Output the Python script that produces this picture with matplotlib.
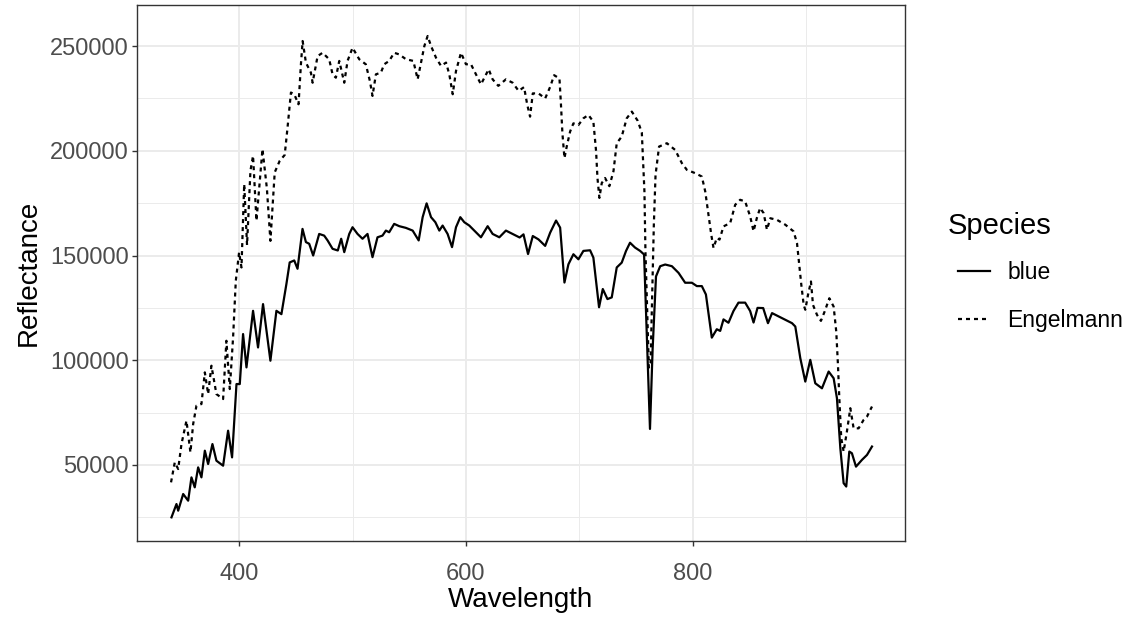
import matplotlib
matplotlib.use("Agg")
import matplotlib.pyplot as plt
from matplotlib.ticker import MultipleLocator

plt.rcParams['font.family'] = ['Liberation Sans', 'DejaVu Sans']

# ---- data ----
blue_wl = [340.4, 344.8, 346.3, 350.7, 355.1, 358.0, 360.9, 363.9, 366.8, 369.8,
           372.7, 376.5, 380.0, 385.9, 390.3, 393.8, 397.7, 400.6, 403.5, 406.5,
           412.3, 416.7, 421.1, 427.6, 432.9, 437.3, 441.7, 444.6, 448.6, 451.5,
           455.9, 458.9, 461.8, 465.3, 470.6, 475.0, 478.0, 482.4, 487.0, 490.0,
           492.7, 497.1, 500.0, 504.4, 508.8, 513.2, 517.6, 522.0, 526.4, 529.4,
           532.3, 536.7, 541.2, 547.0, 553.0, 558.3, 561.8, 565.3, 569.2, 573.0,
           576.5, 579.4, 583.8, 587.7, 591.2, 595.0, 598.5, 602.9, 607.3, 613.2,
           619.1, 623.5, 629.4, 635.2, 641.1, 647.3, 650.7, 654.7, 658.9, 663.9,
           669.8, 674.2, 679.4, 683.0, 686.8, 690.3, 694.7, 699.1, 703.5, 709.4,
           712.3, 717.3, 720.6, 724.7, 728.5, 732.9, 737.3, 741.1, 744.6, 749.0,
           753.5, 757.0, 759.5, 762.2, 764.5, 767.5, 771.2, 775.6, 781.5, 787.4,
           793.2, 799.1, 803.5, 807.9, 811.5, 816.7, 821.1, 824.1, 827.0, 831.4,
           835.8, 840.2, 846.1, 850.5, 853.5, 857.0, 862.0, 866.2, 869.8, 875.6,
           881.5, 887.4, 890.3, 894.7, 899.1, 903.5, 907.9, 913.8, 919.7, 924.1,
           927.0, 930.0, 932.9, 935.2, 937.9, 940.2, 943.8, 949.0, 953.5, 957.9]
blue_refl = [24990, 31350, 28170, 36130, 32950, 44080, 39310, 48860, 44080, 56810,
             50450, 59990, 52040, 49650, 66360, 53620, 88630, 88630, 112500, 96580,
             123600, 106100, 126800, 99770, 123600, 122000, 136400, 146700, 147640, 143670,
             162700, 156400, 155600, 150000, 160300, 159500, 157200, 153200, 152400, 158000,
             151600, 160300, 163500, 160300, 158000, 160300, 149200, 158700, 159500, 161900,
             161100, 165100, 164000, 163200, 161900, 157200, 168300, 174900, 168300, 165900,
             161900, 164300, 160300, 154000, 163500, 168300, 165900, 164300, 161900, 158700,
             164000, 160300, 158700, 161900, 160300, 158600, 160100, 150700, 159300, 157700,
             154600, 160900, 166700, 163300, 137100, 145800, 150600, 148200, 152200, 152500,
             149000, 125300, 134000, 129200, 130000, 144300, 146600, 152200, 156100, 153800,
             152200, 150500, 110000, 67200, 105000, 140000, 144900, 145700, 144900, 141700,
             137000, 137000, 135400, 135400, 131400, 110800, 114800, 114000, 119500, 117900,
             123500, 127500, 127500, 123500, 118000, 125000, 124900, 117700, 122500, 120900,
             119300, 117700, 116100, 101000, 89800, 100200, 89000, 86600, 94600, 91400,
             81900, 58000, 41300, 39700, 56400, 55600, 49200, 52400, 54800, 58800]

engel_wl = [340.0, 343.3, 346.3, 349.2, 353.6, 357.1, 359.5, 362.4, 366.8, 369.8,
            372.7, 375.6, 380.0, 385.9, 388.8, 391.8, 394.7, 397.1, 400.0, 402.1,
            404.5, 407.0, 410.0, 412.3, 415.3, 420.6, 424.5, 427.6, 431.4, 435.8,
            440.2, 442.7, 445.7, 448.6, 452.4, 454.5, 456.0, 458.9, 463.3, 464.8,
            469.2, 473.6, 479.4, 482.4, 485.3, 488.3, 492.7, 495.6, 500.0, 505.9,
            511.7, 515.3, 517.6, 520.6, 525.0, 527.9, 532.3, 536.7, 541.2, 547.1,
            553.6, 557.4, 561.2, 563.3, 566.2, 569.2, 573.6, 578.0, 582.4, 585.3,
            588.3, 591.2, 595.6, 600.0, 604.4, 608.8, 613.2, 617.0, 620.0, 623.5,
            628.5, 635.2, 641.1, 646.4, 651.2, 654.0, 656.5, 658.9, 663.9, 669.8,
            674.2, 677.7, 682.4, 683.6, 685.0, 686.8, 688.8, 691.8, 694.7, 699.1,
            703.5, 707.9, 712.3, 714.7, 715.9, 717.6, 719.7, 722.6, 726.4, 730.0,
            732.9, 737.3, 741.7, 746.2, 751.4, 755.0, 757.3, 758.2, 759.7, 761.2,
            762.7, 764.2, 765.6, 767.1, 770.2, 777.1, 784.4, 790.3, 794.7, 802.1,
            807.9, 810.9, 813.8, 816.2, 818.2, 821.1, 823.5, 827.0, 832.9, 837.3,
            841.7, 846.1, 850.5, 853.5, 856.4, 859.3, 862.4, 865.3, 868.3, 874.2,
            881.5, 888.8, 891.8, 893.8, 895.6, 897.7, 899.1, 901.5, 904.1, 905.9,
            909.4, 912.9, 916.2, 920.3, 924.1, 926.4, 927.9, 929.1, 930.8, 932.9,
            935.8, 938.8, 941.7, 946.1, 950.5, 953.5, 957.9]
engel_refl = [41700, 51240, 48060, 59990, 71130, 56010, 69540, 78290, 79090, 94200,
              83860, 97380, 83860, 81470, 109300, 86240, 110900, 137950, 151500, 144300,
              184100, 155000, 190500, 197600, 166600, 200800, 182000, 157000, 189700, 195200,
              198000, 211100, 227800, 227000, 222200, 241300, 252400, 242100, 237300, 232500,
              245200, 246800, 243700, 236500, 234900, 242900, 232500, 242900, 249200, 243700,
              241300, 233300, 226200, 236500, 237300, 241300, 242900, 246800, 246000, 243700,
              242900, 234100, 244400, 250000, 254800, 250000, 244400, 240500, 242100, 236500,
              227000, 238100, 246800, 241300, 241300, 236500, 231700, 235700, 238900, 234100,
              231000, 234100, 232500, 228600, 230400, 222000, 216300, 227400, 227400, 225000,
              230500, 236100, 234500, 223400, 208400, 196500, 202000, 209200, 213100, 212300,
              215500, 217100, 213900, 199700, 187000, 177500, 184600, 187000, 183100, 190200,
              203600, 206800, 215500, 218700, 214300, 208700, 180600, 152000, 125100, 96500,
              98100, 133000, 164700, 188500, 202000, 203600, 200400, 194100, 190900, 189300,
              187700, 180600, 169500, 160000, 153600, 158400, 157600, 163900, 165500, 174200,
              176600, 175800, 168700, 161600, 167900, 172700, 170200, 162300, 167800, 167000,
              164700, 161500, 155900, 145500, 136000, 126400, 124100, 131200, 137600, 126400,
              121700, 118800, 123300, 129600, 125600, 113700, 97800, 81900, 62800, 56400,
              66000, 77100, 67500, 67500, 71500, 73100, 77900]

species = ["blue", "Engelmann"]
x_ticks = [400, 600, 800]
y_ticks = [50000, 100000, 150000, 200000, 250000]

W, H = 1131, 619

# ---- figure ----
fig = plt.figure(figsize=(W / 100, H / 100), dpi=100)
ax = fig.add_axes([137 / W, 78 / H, 768 / W, 536 / H])

ax.plot(blue_wl, blue_refl, color="black", lw=1.6, linestyle="-", label=species[0],
        solid_joinstyle="round")
ax.plot(engel_wl, engel_refl, color="black", lw=1.6, linestyle=(0, (1.8, 1.8)),
        label=species[1])

ax.set_xlim(310, 987)
ax.set_ylim(13700, 269600)
ax.set_xticks(x_ticks)
ax.set_yticks(y_ticks)
ax.set_yticklabels([str(v) for v in y_ticks])
ax.xaxis.set_minor_locator(MultipleLocator(100))
ax.yaxis.set_minor_locator(MultipleLocator(25000))

ax.grid(which="major", color="#EBEBEB", lw=1.4)
ax.grid(which="minor", color="#EBEBEB", lw=0.7)
ax.set_axisbelow(True)
for s in ax.spines.values():
    s.set_color("#333333")
    s.set_linewidth(1.0)

ax.tick_params(which="major", length=3.5, width=1.0, color="#333333",
               labelcolor="#4D4D4D", labelsize=17)
ax.tick_params(axis="x", pad=12)
ax.tick_params(axis="y", pad=2.5)
ax.tick_params(which="minor", length=0)

ax.set_xlabel("Wavelength", fontsize=20, color="black", labelpad=2)
ax.set_ylabel("Reflectance", fontsize=20, color="black", labelpad=6)

fig.text(948 / W, 1 - 226 / H, "Species", fontsize=21, color="black",
         ha="left", va="center")
leg = fig.legend(loc="upper left", bbox_to_anchor=(958 / W, 1 - 261 / H),
                 frameon=False, fontsize=16.5, handlelength=1.4,
                 labelspacing=1.1, handletextpad=0.75, borderaxespad=0,
                 borderpad=0)

fig.savefig("out.png", dpi=100)
